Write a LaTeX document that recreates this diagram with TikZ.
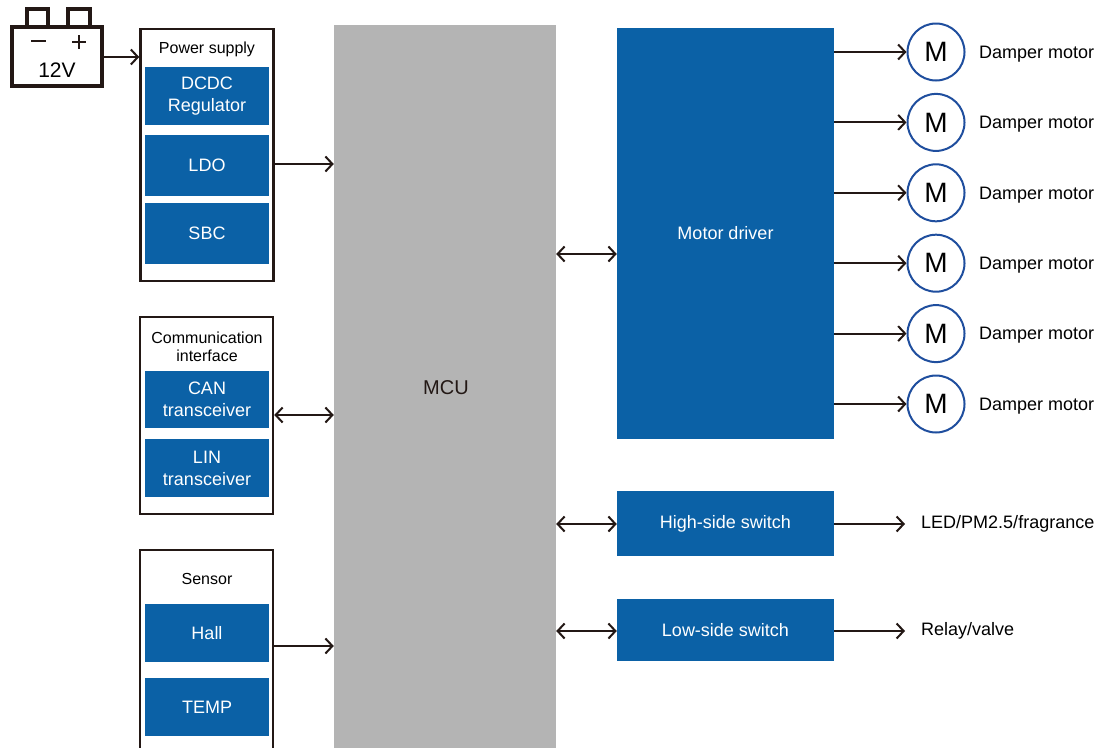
\documentclass[tikz,border=0pt]{standalone}
\usepackage{fontspec}
\setmainfont{Liberation Sans}
\usetikzlibrary{arrows.meta,positioning,calc}
\definecolor{boxblue}{HTML}{0B61A6}
\definecolor{mcugray}{HTML}{B4B4B4}
\definecolor{mline}{HTML}{231815}
\definecolor{motblue}{HTML}{1F4E9E}
\tikzset{
    grp/.style={
        rectangle,
        draw=mline,
        line width=2.5pt,
        fill=white,
        minimum width=133pt,
        inner sep=0pt,
    },
    blk/.style={
        rectangle,
        fill=boxblue,
        text=white,
        minimum width=124pt,
        inner sep=0pt,
        align=center,
        font=\fontsize{18}{22}\selectfont,
    },
    drvblk/.style={
        rectangle,
        fill=boxblue,
        text=white,
        minimum width=217pt,
        inner sep=0pt,
        font=\fontsize{18}{22}\selectfont,
    },
    ttl/.style={
        align=center,
        inner sep=0pt,
        font=\fontsize{16}{18}\selectfont,
    },
    mot/.style={
        circle,
        draw=motblue,
        line width=2pt,
        minimum size=57pt,
        inner sep=0pt,
        font=\fontsize{28}{30}\selectfont,
    },
    lbl/.style={
        anchor=west,
        inner sep=0pt,
        font=\fontsize{18}{20}\selectfont,
    },
    conn/.style={
        draw=mline,
        line width=2pt,
        ->,>={Straight Barb[length=7pt,width=15pt]},
    },
    biconn/.style={
        conn,
        <->,
    },
  }

\begin{document}
\begin{tikzpicture}[x=1pt,y=-1pt]
    \useasboundingbox (0,0) rectangle (1102,747);
    \clip (0,0) rectangle (1102,747);

    % battery
    \draw[mline,line width=3.2pt] (27,9) rectangle (48,27);
    \draw[mline,line width=3.2pt] (68,9) rectangle (90,27);
    \node [draw=mline,line width=3.2pt,fill=white,minimum width=90pt,minimum height=59pt,inner sep=0pt] (bat) at (57,56.5) {};
    \draw[mline,line width=2.2pt] (31,41) -- (46,41);
    \draw[mline,line width=2.2pt] (72,42) -- (86,42) (79,35) -- (79,49);
    \node [font=\fontsize{21}{24}\selectfont,inner sep=0pt] (volt) at (57,70) {12V};

    % MCU
    \node [fill=mcugray,minimum width=222pt,minimum height=725pt,inner sep=0pt] (mcu) at (445,387.5) {};
    \node [font=\fontsize{20}{22}\selectfont,text=mline] (mcutxt) at (446,388) {MCU};

    % power supply
    \node [grp,minimum height=252pt] (ps) at (207,155) {};
    \node [ttl] (pstxt) at (207,49) {Power supply};
    \node [blk,minimum height=58pt] (dcdc) at (207,96) {DCDC\\Regulator};
    \node [blk,minimum height=61pt] (ldo) at (207,165.5) {LDO};
    \node [blk,minimum height=61pt] (sbc) at (207,233.5) {SBC};

    % communication interface
    \node [grp,minimum height=197pt] (com) at (206.5,415.5) {};
    \node [ttl] (comtxt) at (207,347) {Communication\\interface};
    \node [blk,minimum height=57pt] (can) at (207,399.5) {CAN\\transceiver};
    \node [blk,minimum height=58pt] (lin) at (207,468) {LIN\\transceiver};

    % sensor
    \node [grp,minimum height=200pt] (sen) at (206.5,650) {};
    \node [ttl] (sentxt) at (207,579) {Sensor};
    \node [blk,minimum height=58pt] (hall) at (207,633) {Hall};
    \node [blk,minimum height=58pt] (temp) at (207,707) {TEMP};

    % drivers
    \node [drvblk,minimum height=411pt] (drv) at (725.5,233.5) {Motor driver};
    \node [drvblk,minimum height=65pt] (hs) at (725.5,523.5) {High-side switch};
    \node [drvblk,minimum height=62pt] (ls) at (725.5,630) {Low-side switch};

    % motors
    \foreach \i in {0,...,5} {
        \node [mot] (m\i) at (936,52+70.4*\i) {M};
        \node [lbl] (ml\i) at (979,54+70.4*\i) {Damper motor};
        \draw [conn] (m\i.west -| drv.east) -- (m\i.west);
    }

    \node [lbl] (led) at (921,524) {LED/PM2.5/fragrance};
    \node [lbl] (rly) at (921,631) {Relay/valve};

    \draw [conn] (bat.east |- 0,57) -- (ps.west |- 0,57);
    \draw [conn] (ps.east |- 0,164) -- (mcu.west |- 0,164);
    \draw [biconn] (com.east |- 0,415) -- (mcu.west |- 0,415);
    \draw [conn] (sen.east |- 0,646) -- (mcu.west |- 0,646);
    \draw [biconn] (mcu.east |- 0,254) -- (drv.west |- 0,254);
    \draw [biconn] (mcu.east |- 0,524) -- (hs.west |- 0,524);
    \draw [biconn] (mcu.east |- 0,631) -- (ls.west |- 0,631);
    \draw [conn] (hs.east |- 0,524) -- ([xshift=-16pt]led.west);
    \draw [conn] (ls.east |- 0,631) -- ([xshift=-16pt]rly.west);
\end{tikzpicture}
\end{document}
